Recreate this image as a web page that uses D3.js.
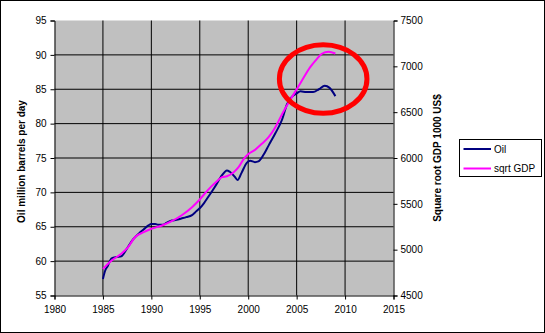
<!DOCTYPE html>
<html>
<head>
<meta charset="utf-8">
<script src="https://cdn.jsdelivr.net/npm/d3@7"></script>
<style>
html,body{margin:0;padding:0;background:#fff;}
svg{display:block;font-family:"Liberation Sans",Arial,sans-serif;}
</style>
</head>
<body>
<svg id="chart" width="545" height="333"></svg>
<script>
// ---- data ----
const xTicks = [1980, 1985, 1990, 1995, 2000, 2005, 2010, 2015];
const leftTicks = [55, 60, 65, 70, 75, 80, 85, 90, 95];
const rightTicks = [4500, 5000, 5500, 6000, 6500, 7000, 7500];

const oilYears = [1985.0,1985.2,1985.5,1985.9,1986.4,1986.9,1987.2,1987.6,1988.2,1988.7,1989.2,1989.7,1990.0,1990.4,1990.7,1991.2,1991.6,1992.1,1992.6,1993.1,1993.6,1994.2,1994.6,1995.2,1995.9,1996.6,1997.3,1997.8,1998.1,1998.6,1998.9,1999.3,1999.85,2000.2,2000.7,2001.05,2001.6,2002.1,2002.8,2003.5,2004.0,2004.5,2005.0,2005.4,2006.0,2006.7,2007.3,2007.9,2008.4,2009.0];
const oilValues = [57.4,58.5,59.3,60.4,60.6,60.7,61.2,62.1,63.3,64.0,64.6,65.2,65.4,65.4,65.3,65.3,65.6,65.9,66.0,66.2,66.4,66.7,67.2,68.0,69.4,70.9,72.5,73.2,73.0,72.3,71.8,72.8,74.3,74.6,74.4,74.5,75.5,76.8,78.6,80.6,82.8,83.9,84.4,84.7,84.6,84.6,85.0,85.5,85.2,84.0];

const gdpYears = [1985.0,1985.9,1986.9,1987.6,1988.3,1989.2,1990.0,1991.1,1992.1,1993.1,1994.2,1994.9,1995.5,1996.2,1996.8,1997.3,1997.8,1998.5,1999.0,1999.55,2000.05,2000.7,2001.4,2002.1,2002.8,2003.6,2004.3,2005.35,2006.4,2007.1,2007.6,2008.3,2009.0];
const gdpValues = [4790,4882,4955,5027,5136,5191,5228,5264,5311,5373,5463,5536,5610,5690,5750,5791,5801,5845,5900,5991,6046,6089,6155,6227,6336,6500,6627,6809,6991,7082,7137,7160,7140];

const seriesNames = ["Oil", "sqrt GDP"];
const leftTitle = "Oil million barrels per day";
const rightTitle = "Square root GDP 1000 US$";
// highlight ellipse (data units: year, oil)
const highlightCenter = [2007.74, 86.5];
const highlightRadius = [4.52, 4.99];

// ---- layout ----
const svg = d3.select("#chart");
const L = 54.5, R = 393.5, T = 20.5, B = 295.5;
const x = d3.scaleLinear().domain([1980, 2015]).range([L, R]);
const yL = d3.scaleLinear().domain([55, 95]).range([B, T]);
const yR = d3.scaleLinear().domain([4500, 7500]).range([B, T]);

svg.append("rect").attr("x",0.5).attr("y",0.5).attr("width",544).attr("height",332)
  .attr("fill","#fff").attr("stroke","#000").attr("stroke-width",1);

svg.append("rect").attr("x",L).attr("y",T).attr("width",R-L).attr("height",B-T).attr("fill","#C0C0C0");

// gridlines
svg.append("g").selectAll("line").data(leftTicks.filter(d=>d>55 && d<95)).join("line")
  .attr("x1",L).attr("x2",R).attr("y1",d=>yL(d)).attr("y2",d=>yL(d))
  .attr("stroke","#000").attr("stroke-width",1);
svg.append("g").selectAll("line").data(xTicks.filter(d=>d>1980 && d<2015)).join("line")
  .attr("y1",T).attr("y2",B).attr("x1",d=>x(d)).attr("x2",d=>x(d))
  .attr("stroke","#000").attr("stroke-width",1);

// axes
function styleAxis(g){
  g.selectAll("path").attr("stroke","#000").attr("stroke-width",1);
  g.selectAll("line").attr("stroke","#000");
  g.selectAll("text").attr("fill","#000").style("font-size","10px").style("font-family","'Liberation Sans',Arial,sans-serif");
}
svg.append("g").attr("transform",`translate(0,${B})`)
  .call(d3.axisBottom(x).tickValues(xTicks).tickFormat(d3.format("d")).tickSizeOuter(0).tickSize(4).tickPadding(6))
  .call(styleAxis);
svg.append("g").attr("transform",`translate(${L},0)`)
  .call(d3.axisLeft(yL).tickValues(leftTicks).tickSizeOuter(0).tickSize(4).tickPadding(4))
  .call(styleAxis);
svg.append("g").attr("transform",`translate(${R},0)`)
  .call(d3.axisRight(yR).tickValues(rightTicks).tickFormat(d3.format("d")).tickSizeOuter(0).tickSize(4).tickPadding(3))
  .call(styleAxis);

// lines
const oilData = oilYears.map((yr,i)=>[yr, oilValues[i]]);
const gdpData = gdpYears.map((yr,i)=>[yr, gdpValues[i]]);
svg.append("path").datum(oilData)
  .attr("d", d3.line().x(d=>x(d[0])).y(d=>yL(d[1])).curve(d3.curveMonotoneX))
  .attr("fill","none").attr("stroke","#000080").attr("stroke-width",2);
svg.append("path").datum(gdpData)
  .attr("d", d3.line().x(d=>x(d[0])).y(d=>yR(d[1])).curve(d3.curveMonotoneX))
  .attr("fill","none").attr("stroke","#FF00FF").attr("stroke-width",2);

// highlight ellipse
svg.append("ellipse")
  .attr("cx", x(highlightCenter[0])).attr("cy", yL(highlightCenter[1]))
  .attr("rx", x(highlightCenter[0]+highlightRadius[0]) - x(highlightCenter[0]))
  .attr("ry", yL(highlightCenter[1]) - yL(highlightCenter[1]+highlightRadius[1]))
  .attr("fill","none").attr("stroke","#FF0000").attr("stroke-width",5);

// axis titles
svg.append("text").attr("transform","translate(25,161.5) rotate(-90)")
  .attr("text-anchor","middle").style("font-size","10px").style("font-weight","bold").text(leftTitle);
svg.append("text").attr("transform","translate(441,158) rotate(-90)")
  .attr("text-anchor","middle").style("font-size","10px").style("font-weight","bold").text(rightTitle);

// legend
const lg = svg.append("g");
lg.append("rect").attr("x",459.5).attr("y",139.5).attr("width",82).attr("height",37)
  .attr("fill","#fff").attr("stroke","#000").attr("stroke-width",1);
const colors = ["#000080","#FF00FF"];
seriesNames.forEach((n,i)=>{
  const yy = 149 + i*19.5;
  lg.append("line").attr("x1",463.5).attr("x2",491).attr("y1",yy).attr("y2",yy)
    .attr("stroke",colors[i]).attr("stroke-width",2);
  lg.append("text").attr("x",494).attr("y",yy+3.5).style("font-size","10px").attr("fill","#000").text(n);
});
</script>
</body>
</html>
